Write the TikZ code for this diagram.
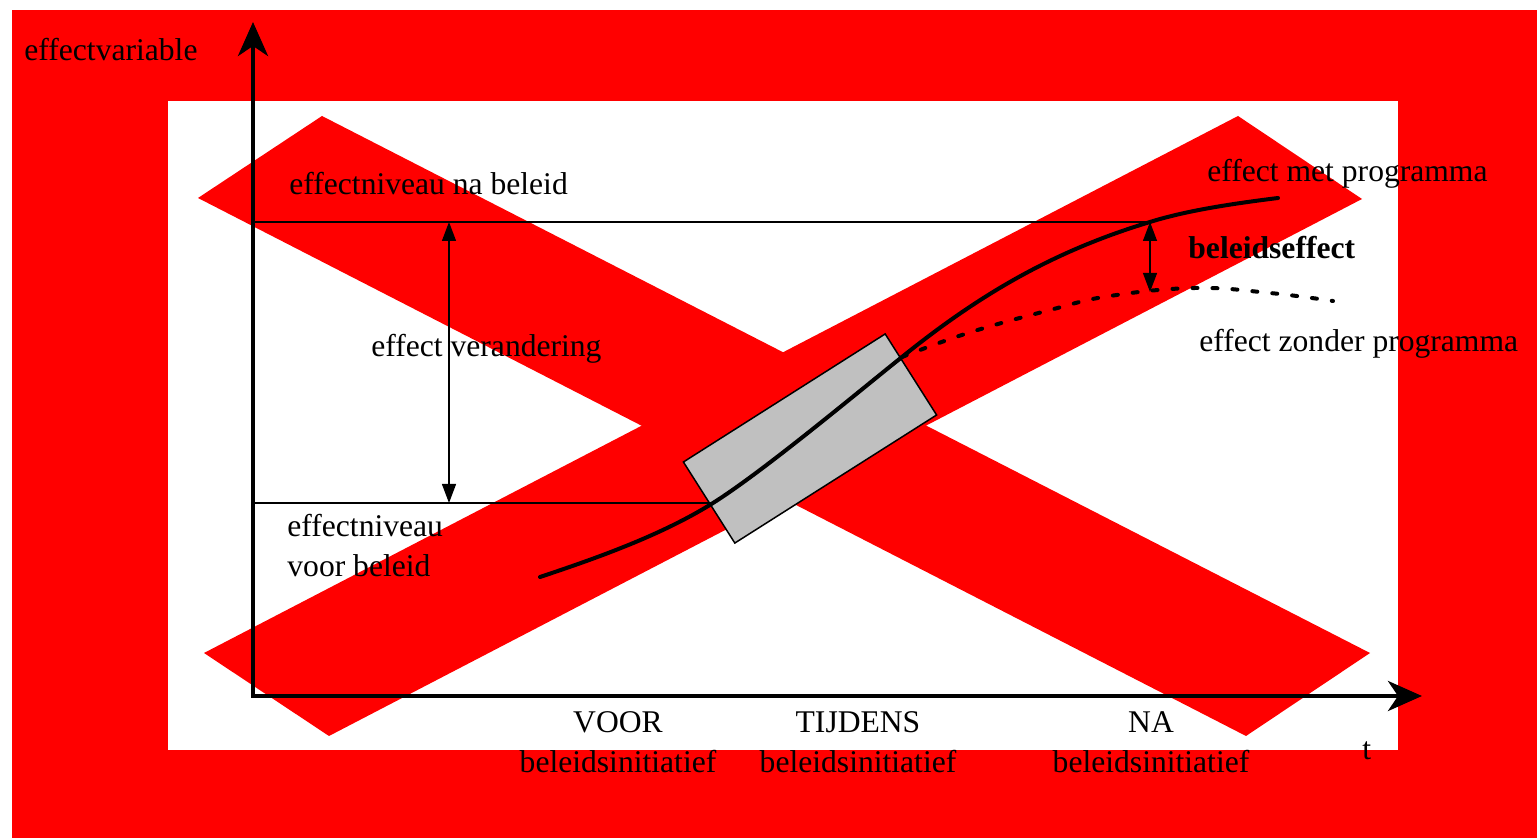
\documentclass[tikz,border=0pt]{standalone}
\usepackage{fontspec}
\setmainfont{Liberation Serif}
\usetikzlibrary{arrows.meta}
\definecolor{boxgrey}{RGB}{192,192,192}
\tikzset{
        axis/.style={line width=2.1pt, line join=miter,
                {Stealth[length=17pt,width=15pt,inset=5pt]}-{Stealth[length=17pt,width=15pt,inset=5pt]}},
        level/.style={line width=0.65pt},
        change/.style={line width=0.65pt,
                {Triangle[length=9.5pt,width=7pt]}-{Triangle[length=9.5pt,width=7pt]}},
        withprog/.style={line width=2pt, line cap=round},
        noprog/.style={line width=2pt, line cap=round, dash pattern=on 2.5pt off 7.5pt},
        lbl/.style={anchor=base west, inner sep=0pt}
    }

\begin{document}
\begin{tikzpicture}[x=0.5pt,y=-0.5pt,font=\fontsize{15.8}{20}\selectfont]

\useasboundingbox (0,0) rectangle (1537,838);
\fill[white] (0,0) rectangle (1537,838);
\fill[red] (12,10) rectangle (1537,838);
\fill[white] (168,101) rectangle (1398,750);

% red cross
\fill[red] (198,198) -- (322,116) -- (1370,653) -- (1246,736) -- cycle;
\fill[red] (204,653) -- (1238,116) -- (1362,199) -- (329,736) -- cycle;

\coordinate (O) at (253,696);
\coordinate (YTOP) at (253,22);
\coordinate (XEND) at (1422,696);
\coordinate (LVLHI) at (253,222);
\coordinate (LVLLO) at (253,503);
\coordinate (CHGHI) at (449,222);
\coordinate (CHGLO) at (449,503);
\coordinate (START) at (540,577);
\coordinate (LOW) at (713,503);
\coordinate (SPLIT) at (902,357);
\coordinate (HIGH) at (1150,222);
\coordinate (END) at (1278,198);
\coordinate (NOPROG) at (1150,292);
\coordinate (DOTEND) at (1333,301);

\draw (810,438.5) node(BOX)[rotate=32.4,draw,line width=0.75pt,fill=boxgrey,
        inner sep=0pt,minimum width=119.5pt,minimum height=48pt]{};

\draw[axis] (YTOP) -- (O) -- (XEND);

\draw[level] (LVLHI) -- (HIGH);
\draw[level] (LVLLO) -- (LOW);
\draw[change] (CHGHI) -- (CHGLO);

\draw[withprog] (START) .. controls (597,558) and (662,535) .. (LOW)
        .. controls (764,471) and (863,388) .. (SPLIT)
        .. controls (980,294) and (1054,251) .. (HIGH)
        .. controls (1188,210) and (1238,203) .. (END);
\draw[noprog] plot[smooth,tension=0.7] coordinates {(SPLIT) (968,333) (1050,310)
        (1110,296) (1195,288) (1270,293) (DOTEND)};
\draw[change] (HIGH) -- (NOPROG);

\draw (24,61) node(YLAB)[lbl]{effectvariable};
\draw (1362,760) node(XLAB)[anchor=base west,inner sep=0pt]{t};
\draw (289,195) node(HILAB)[lbl]{effectniveau na beleid};
\draw (287,577) node(LOLAB)[lbl,align=left]{effectniveau\\voor beleid};
\draw (371,357) node(CHGLAB)[lbl]{effect verandering};
\draw (1207,182) node(WITH)[lbl]{effect met programma};
\draw (1188,259) node(EFF)[lbl,font=\fontsize{15.8}{20}\selectfont\bfseries]{beleidseffect};
\draw (1199,352) node(WITHOUT)[lbl]{effect zonder programma};

\draw (618,773) node(VOOR)[anchor=base,inner sep=0pt,align=center]{VOOR\\beleidsinitiatief};
\draw (858,773) node(TIJDENS)[anchor=base,inner sep=0pt,align=center]{TIJDENS\\beleidsinitiatief};
\draw (1151,773) node(NA)[anchor=base,inner sep=0pt,align=center]{NA\\beleidsinitiatief};

\end{tikzpicture}
\end{document}
